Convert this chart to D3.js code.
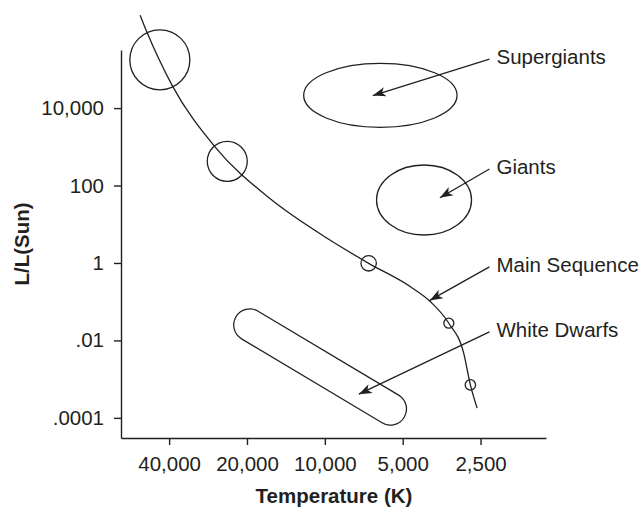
<!DOCTYPE html>
<html>
<head>
<meta charset="utf-8">
<script src="https://cdn.jsdelivr.net/npm/d3@7"></script>
<style>
  body { margin: 0; background: #fff; }
  svg { display: block; font-family: "Liberation Sans", Arial, Helvetica, sans-serif; }
</style>
</head>
<body>
<div id="chart"></div>
<script>
// Tick values and labels
var xTicks = [40000, 20000, 10000, 5000, 2500];
var xTickLabels = ['40,000', '20,000', '10,000', '5,000', '2,500'];
var yTicks = [1e4, 1e2, 1, 1e-2, 1e-4];
var yTickLabels = ['10,000', '100', '1', '.01', '.0001'];

// Main sequence track (temperature K, luminosity L/Lsun)
var seqTemp = [51800, 48800, 39000, 26600, 16350, 9800, 6770, 4665, 3905, 3316, 2905, 2737, 2577];
var seqLum = [2.5e6, 9.3e5, 39200, 1000, 46.7, 4.34, 0.98, 0.244, 0.1, 0.0278, 0.00468, 0.00071, 0.000178];

// Example stars sitting on the main sequence
var starTemp = [43450, 23840, 6770, 3316, 2737];
var starLum = [176300, 421, 0.98, 0.0278, 0.00071];

// Regions: supergiants, giants (centres) and white dwarf band (two ends)
var regionNames = ['Supergiants', 'Giants'];
var regionTemp = [6100, 4135];
var regionLum = [21300, 42.3];
var dwarfTemp = [19500, 5580];
var dwarfLum = [0.025, 0.00017];

// Annotations: label position and arrow tip
var labelNames = ['Supergiants', 'Giants', 'Main Sequence', 'White Dwarfs'];
var labelTemp = [2170, 2170, 2170, 2170];
var labelLum = [2.07e5, 300, 0.89, 0.0187];
var tipTemp = [6525, 3590, 3930, 7390];
var tipLum = [21000, 48.4, 0.108, 0.00041];

var width = 642;
var height = 509;
var ink = '#231f20';

var svg = d3.select('#chart')
  .append('svg')
  .attr('width', width)
  .attr('height', height);

// Scales (temperature decreases to the right)
var xScale = d3.scaleLog()
  .domain([61400, 1396])
  .range([121, 546]);

var yScale = d3.scaleLog()
  .domain([Math.pow(10, 5.5), Math.pow(10, -4.52)])
  .range([50, 438]);

// Arrow marker
svg.append('defs').append('marker')
  .attr('id', 'arrow')
  .attr('markerUnits', 'userSpaceOnUse')
  .attr('markerWidth', 16)
  .attr('markerHeight', 12)
  .attr('viewBox', '-14 -6 16 12')
  .attr('refX', 0)
  .attr('refY', 0)
  .attr('orient', 'auto')
  .append('path')
  .attr('d', 'M0,0 L-13,-4.8 L-9.5,0 L-13,4.8 Z')
  .attr('fill', ink);

// X axis
var xAxis = d3.axisBottom(xScale)
  .tickValues(xTicks)
  .tickFormat((d, i) => xTickLabels[i])
  .tickSizeInner(7)
  .tickSizeOuter(0)
  .tickPadding(10);

var gx = svg.append('g')
  .attr('transform', 'translate(0,438)')
  .call(xAxis);

// Y axis
var yAxis = d3.axisLeft(yScale)
  .tickValues(yTicks)
  .tickFormat((d, i) => yTickLabels[i])
  .tickSizeInner(7)
  .tickSizeOuter(0)
  .tickPadding(10);

var gy = svg.append('g')
  .attr('transform', 'translate(121,0)')
  .call(yAxis);

[gx, gy].forEach((g) => {
  g.select('.domain').attr('stroke', ink).attr('stroke-width', 1.4);
  g.selectAll('.tick line').attr('stroke', ink).attr('stroke-width', 1.4);
  g.selectAll('.tick text')
    .attr('fill', ink)
    .style('font-size', '20.5px')
    .style('font-family', '"Liberation Sans", Arial, sans-serif');
});
gx.selectAll('.tick text').attr('y', 33).attr('dy', 0);

// Axis titles
svg.append('text')
  .attr('x', 334)
  .attr('y', 503)
  .attr('text-anchor', 'middle')
  .attr('fill', ink)
  .style('font-size', '20.5px')
  .style('font-weight', 'bold')
  .text('Temperature (K)');

svg.append('text')
  .attr('transform', 'translate(29,244) rotate(-90)')
  .attr('text-anchor', 'middle')
  .attr('fill', ink)
  .style('font-size', '20.5px')
  .style('font-weight', 'bold')
  .text('L/L(Sun)');

// White dwarf band (outlined capsule)
var dwarfLine = d3.line()
  .x((d, i) => xScale(dwarfTemp[i]))
  .y((d, i) => yScale(dwarfLum[i]));

svg.append('path')
  .attr('d', dwarfLine(dwarfTemp))
  .attr('fill', 'none')
  .attr('stroke', ink)
  .attr('stroke-width', 33.5)
  .attr('stroke-linecap', 'round');

svg.append('path')
  .attr('d', dwarfLine(dwarfTemp))
  .attr('fill', 'none')
  .attr('stroke', '#fff')
  .attr('stroke-width', 31)
  .attr('stroke-linecap', 'round');

// Giant and supergiant regions
var regionRx = [76.7, 47.5];
var regionRy = [32, 35];
svg.selectAll('.region')
  .data(regionNames)
  .enter().append('ellipse')
  .attr('class', 'region')
  .attr('cx', (d, i) => xScale(regionTemp[i]))
  .attr('cy', (d, i) => yScale(regionLum[i]))
  .attr('rx', (d, i) => regionRx[i])
  .attr('ry', (d, i) => regionRy[i])
  .attr('fill', 'none')
  .attr('stroke', ink)
  .attr('stroke-width', 1.3);

// Main sequence curve
var seqLine = d3.line()
  .x((d, i) => xScale(seqTemp[i]))
  .y((d, i) => yScale(seqLum[i]))
  .curve(d3.curveMonotoneX);

svg.append('path')
  .attr('d', seqLine(seqTemp))
  .attr('fill', 'none')
  .attr('stroke', ink)
  .attr('stroke-width', 1.3);

// Stars
var starRadius = [30, 20, 7.7, 5, 5.2];
svg.selectAll('.star')
  .data(starTemp)
  .enter().append('circle')
  .attr('class', 'star')
  .attr('cx', (d) => xScale(d))
  .attr('cy', (d, i) => yScale(starLum[i]))
  .attr('r', (d, i) => starRadius[i])
  .attr('fill', 'none')
  .attr('stroke', ink)
  .attr('stroke-width', 1.3);

// Annotation arrows and labels
svg.selectAll('.pointer')
  .data(labelNames)
  .enter().append('line')
  .attr('class', 'pointer')
  .attr('x1', (d, i) => xScale(labelTemp[i]) - 7)
  .attr('y1', (d, i) => yScale(labelLum[i]) + 2)
  .attr('x2', (d, i) => xScale(tipTemp[i]))
  .attr('y2', (d, i) => yScale(tipLum[i]))
  .attr('stroke', ink)
  .attr('stroke-width', 1.3)
  .attr('marker-end', 'url(#arrow)');

svg.selectAll('.label')
  .data(labelNames)
  .enter().append('text')
  .attr('class', 'label')
  .attr('x', (d, i) => xScale(labelTemp[i]))
  .attr('y', (d, i) => yScale(labelLum[i]) + 7)
  .attr('fill', ink)
  .style('font-size', '20.5px')
  .text((d) => d);
</script>
</body>
</html>
